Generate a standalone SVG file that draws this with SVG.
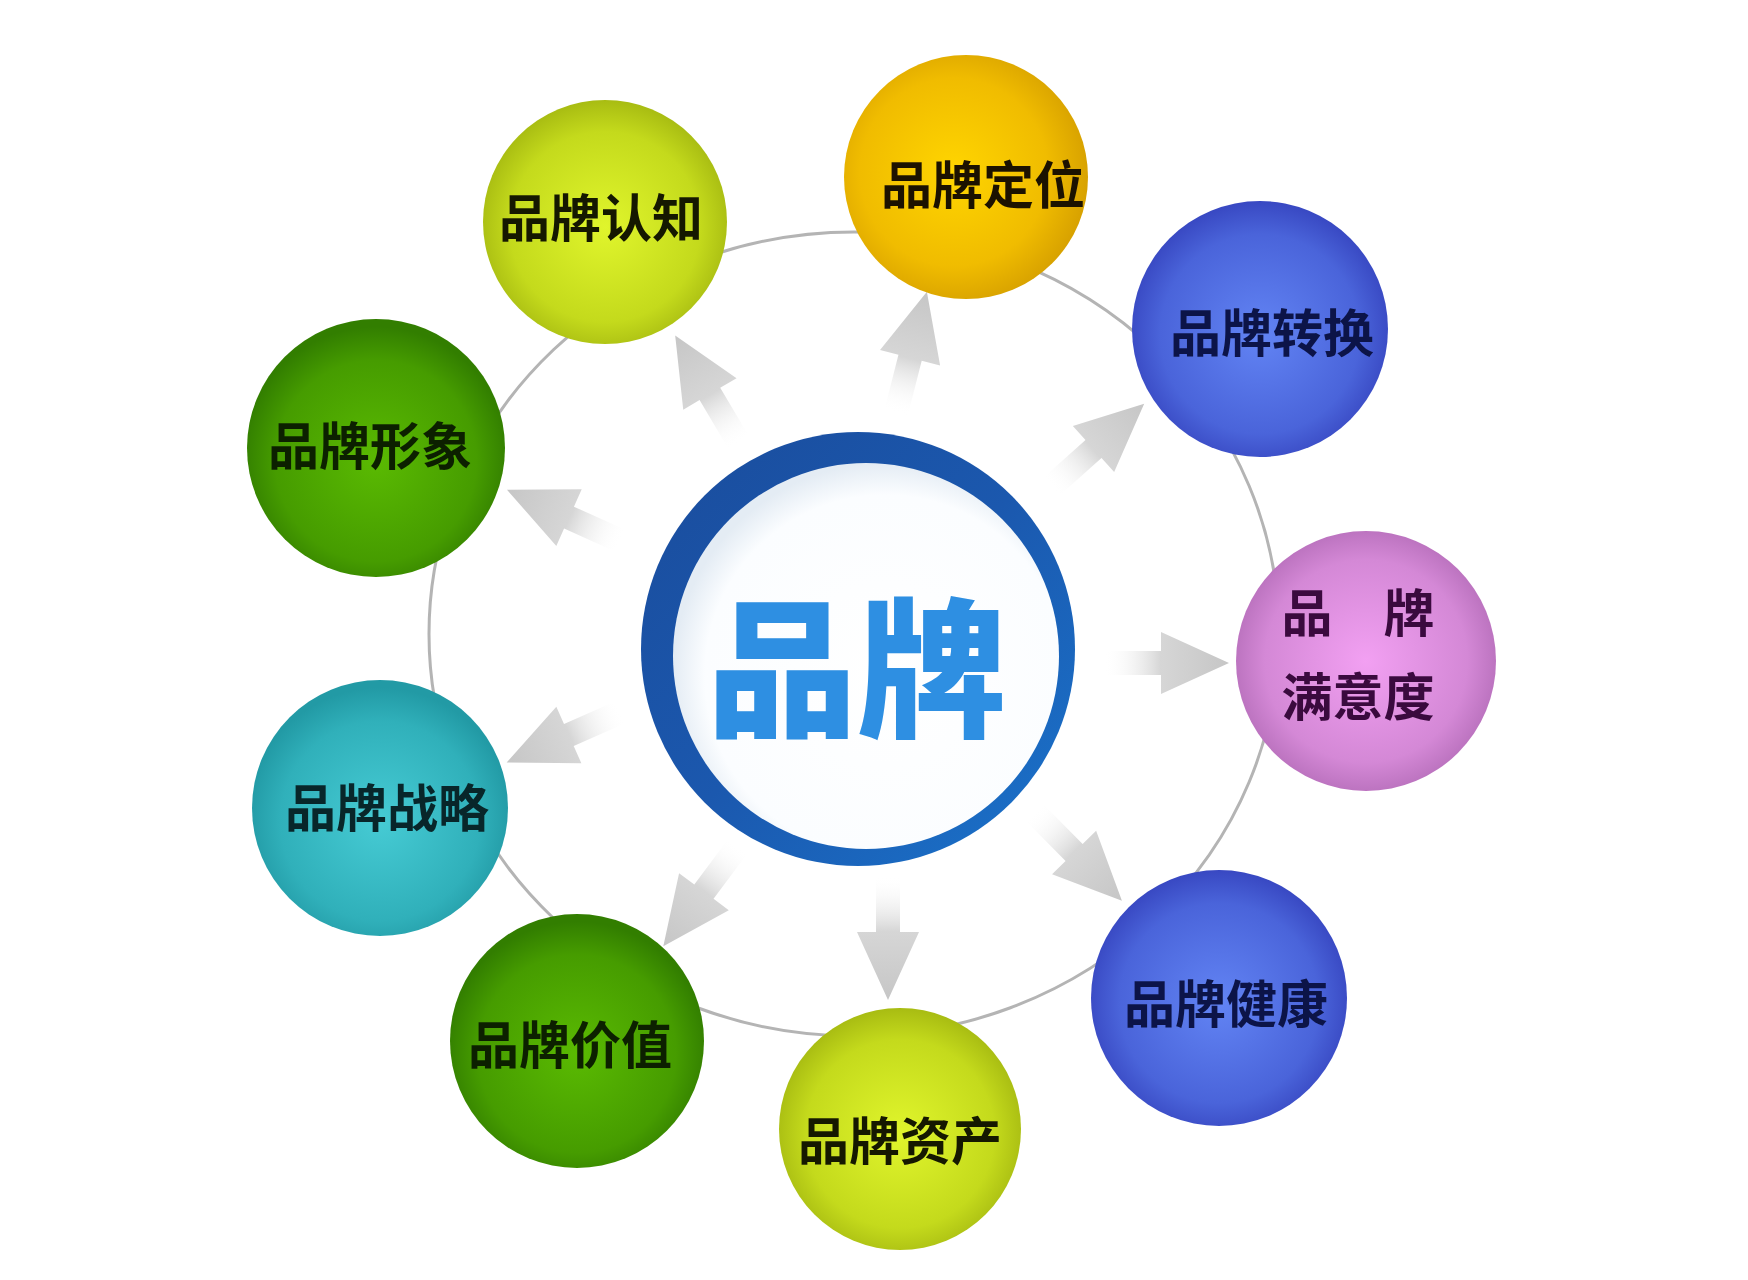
<svg xmlns="http://www.w3.org/2000/svg" xmlns:xlink="http://www.w3.org/1999/xlink" width="1748" height="1280" viewBox="0 0 1748 1280">
  <defs>
    <style>
      .lbl { font-family: "Noto Sans CJK SC", "Noto Sans", sans-serif; font-weight: 700; font-size: 51px; text-anchor: middle; dominant-baseline: central; }
      .ring { fill: none; stroke: #b4b4b4; stroke-width: 3; }
      .arrow { fill: url(#gArrow); }
    </style>
    <radialGradient id="gYG" cx="50%" cy="52%" r="52%">
      <stop offset="0" stop-color="#e0f52c"/>
      <stop offset="0.75" stop-color="#c4da1c"/>
      <stop offset="1" stop-color="#a8bc12"/>
    </radialGradient>
    <radialGradient id="gGold" cx="45%" cy="48%" r="55%">
      <stop offset="0" stop-color="#ffd500"/>
      <stop offset="0.7" stop-color="#f0bc00"/>
      <stop offset="1" stop-color="#d8a200"/>
    </radialGradient>
    <radialGradient id="gBlue" cx="50%" cy="52%" r="52%">
      <stop offset="0" stop-color="#6284f4"/>
      <stop offset="0.75" stop-color="#4a64da"/>
      <stop offset="1" stop-color="#3848c2"/>
    </radialGradient>
    <radialGradient id="gPink" cx="50%" cy="50%" r="52%">
      <stop offset="0" stop-color="#f2a0f2"/>
      <stop offset="0.75" stop-color="#d488d6"/>
      <stop offset="1" stop-color="#b870bc"/>
    </radialGradient>
    <radialGradient id="gGreen" cx="50%" cy="55%" r="52%">
      <stop offset="0" stop-color="#5aba02"/>
      <stop offset="0.75" stop-color="#469c00"/>
      <stop offset="1" stop-color="#327e00"/>
    </radialGradient>
    <radialGradient id="gTeal" cx="50%" cy="55%" r="52%">
      <stop offset="0" stop-color="#46cbd4"/>
      <stop offset="0.75" stop-color="#30b0ba"/>
      <stop offset="1" stop-color="#229aa5"/>
    </radialGradient>
    <linearGradient id="gRing" x1="0" y1="0" x2="1" y2="1">
      <stop offset="0" stop-color="#1a4c9c"/>
      <stop offset="0.5" stop-color="#1b58ae"/>
      <stop offset="1" stop-color="#1a74cc"/>
    </linearGradient>
    <radialGradient id="gInner" cx="55%" cy="55%" r="55%">
      <stop offset="0" stop-color="#ffffff"/>
      <stop offset="0.85" stop-color="#fbfdff"/>
      <stop offset="1" stop-color="#e4ecf4"/>
    </radialGradient>
    <linearGradient id="gArrow" x1="0" y1="0" x2="1" y2="0">
      <stop offset="0" stop-color="#ffffff" stop-opacity="0"/>
      <stop offset="0.45" stop-color="#d6d6d6"/>
      <stop offset="1" stop-color="#c6c6c6"/>
    </linearGradient>
    <path id="arw" class="arrow" d="M0,-12 L57,-12 L57,-31 L125,0 L57,31 L57,12 L0,12 Z"/>
  </defs>

  <rect width="1748" height="1280" fill="#ffffff"/>

  <g id="connectors">
    <ellipse class="ring" cx="854" cy="634" rx="425" ry="402"/>
    <use xlink:href="#arw" transform="translate(739,443) rotate(-120.7)"/>
    <use xlink:href="#arw" transform="translate(896,413) rotate(-75.7)"/>
    <use xlink:href="#arw" transform="translate(1051,487) rotate(-41.8)"/>
    <use xlink:href="#arw" transform="translate(1104,663) rotate(0)"/>
    <use xlink:href="#arw" transform="translate(1034,812) rotate(45.3)"/>
    <use xlink:href="#arw" transform="translate(888,875) rotate(90)"/>
    <use xlink:href="#arw" transform="translate(738,846) rotate(126.7)"/>
    <use xlink:href="#arw" transform="translate(621,712) rotate(156.2)"/>
    <use xlink:href="#arw" transform="translate(621,541) rotate(-155.8)"/>
  </g>

  <g id="center">
    <circle cx="858" cy="649" r="217" fill="url(#gRing)"/>
    <circle cx="866" cy="656" r="193" fill="url(#gInner)"/>
    <text x="857" y="659" font-family="Noto Sans CJK SC, sans-serif" font-weight="900" font-size="150" fill="#2e8fe2" text-anchor="middle" dominant-baseline="central">品牌</text>
  </g>

  <g id="node-renzhi">
    <circle cx="605" cy="222" r="122" fill="url(#gYG)"/>
    <text class="lbl" x="601" y="215" fill="#151800">品牌认知</text>
  </g>
  <g id="node-dingwei">
    <circle cx="966" cy="177" r="122" fill="url(#gGold)"/>
    <text class="lbl" x="983" y="182" fill="#1c1200">品牌定位</text>
  </g>
  <g id="node-zhuanhuan">
    <circle cx="1260" cy="329" r="128" fill="url(#gBlue)"/>
    <text class="lbl" x="1272" y="330" fill="#0c1448">品牌转换</text>
  </g>
  <g id="node-manyidu">
    <circle cx="1366" cy="661" r="130" fill="url(#gPink)"/>
    <text class="lbl" x="1358" y="610" fill="#3a0a3e">品　牌</text>
    <text class="lbl" x="1358" y="694" fill="#3a0a3e">满意度</text>
  </g>
  <g id="node-jiankang">
    <circle cx="1219" cy="998" r="128" fill="url(#gBlue)"/>
    <text class="lbl" x="1226" y="1001" fill="#0c1448">品牌健康</text>
  </g>
  <g id="node-zichan">
    <circle cx="900" cy="1129" r="121" fill="url(#gYG)"/>
    <text class="lbl" x="900" y="1138" fill="#151800">品牌资产</text>
  </g>
  <g id="node-jiazhi">
    <circle cx="577" cy="1041" r="127" fill="url(#gGreen)"/>
    <text class="lbl" x="570" y="1042" fill="#0c2000">品牌价值</text>
  </g>
  <g id="node-zhanlue">
    <circle cx="380" cy="808" r="128" fill="url(#gTeal)"/>
    <text class="lbl" x="387" y="805" fill="#08262a">品牌战略</text>
  </g>
  <g id="node-xingxiang">
    <circle cx="376" cy="448" r="129" fill="url(#gGreen)"/>
    <text class="lbl" x="370" y="443" fill="#0c2000">品牌形象</text>
  </g>
</svg>
